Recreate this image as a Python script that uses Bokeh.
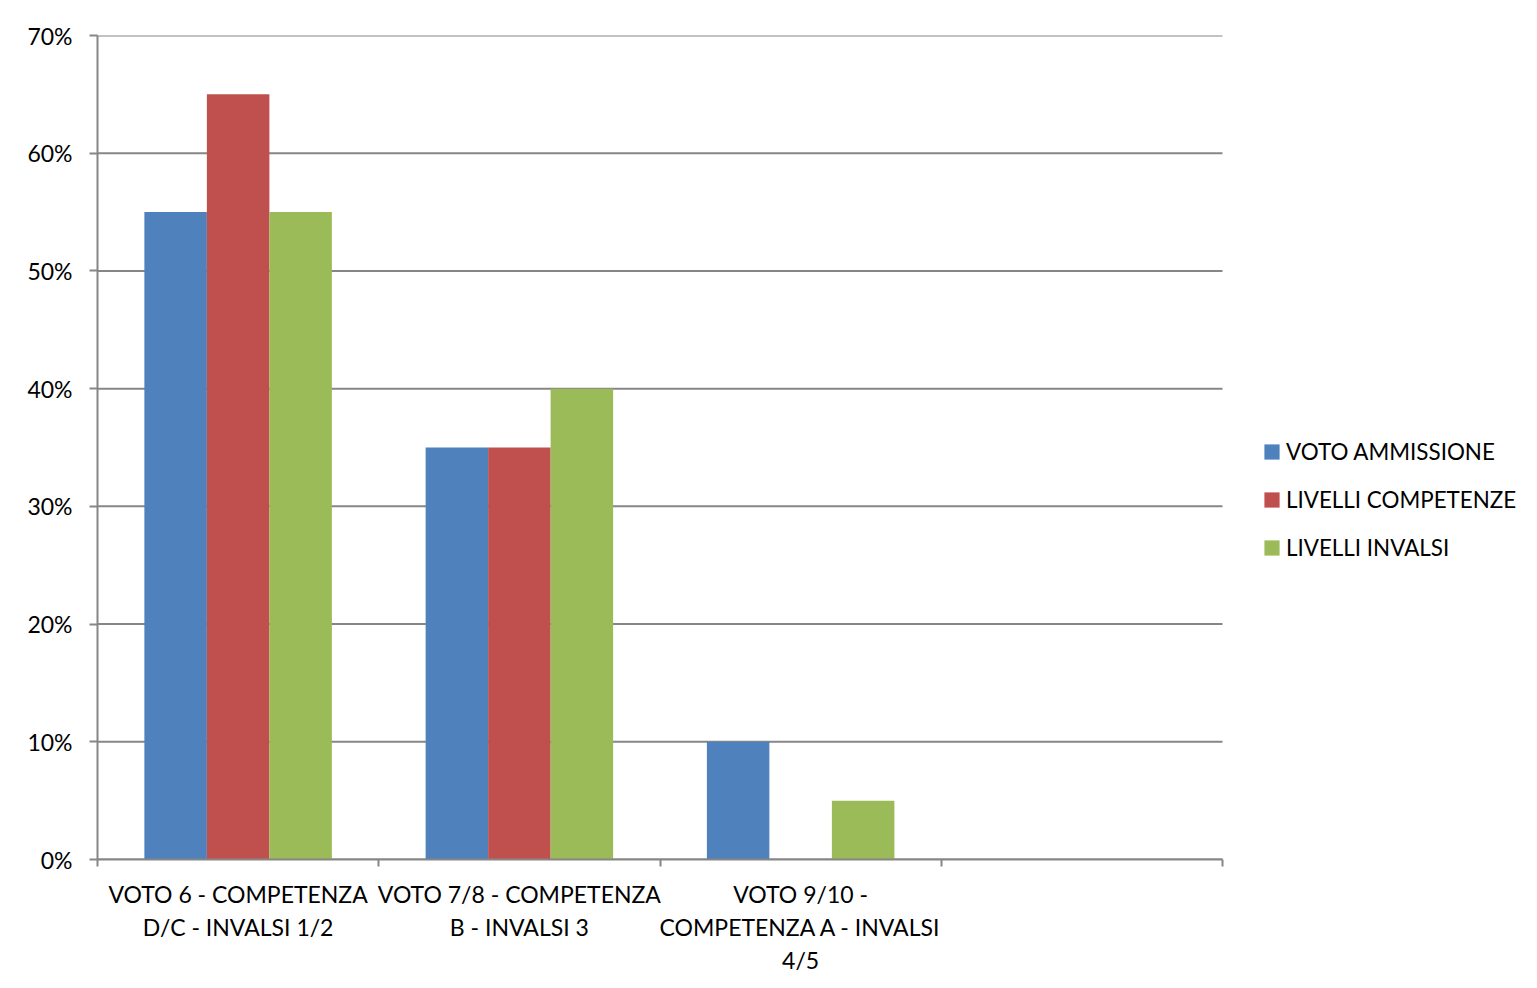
from bokeh.plotting import figure
from bokeh.models import (ColumnDataSource, FixedTicker, NumeralTickFormatter,
                          Range1d, Legend, LegendItem)
from bokeh.embed import file_html
from bokeh.resources import INLINE

# ---- data ----
categories = ["VOTO 6 - COMPETENZA\nD/C - INVALSI 1/2",
              "VOTO 7/8 - COMPETENZA\nB - INVALSI 3",
              "VOTO 9/10 -\nCOMPETENZA A - INVALSI\n4/5",
              ""]
series_names = ["VOTO AMMISSIONE", "LIVELLI COMPETENZE", "LIVELLI INVALSI"]
voto_ammissione = [0.55, 0.35, 0.10, 0.0]
livelli_competenze = [0.65, 0.35, 0.0, 0.0]
livelli_invalsi = [0.55, 0.40, 0.05, 0.0]
y_ticks = [0.0, 0.1, 0.2, 0.3, 0.4, 0.5, 0.6, 0.7]

colors = ["#4F81BD", "#C0504D", "#9BBB59"]
FONT = "Lato"
FS = "23px"
gray = "#868686"

n = len(categories)
centers = [i + 0.5 for i in range(n)]
bw = 2.0 / 9.0  # each bar width in category units
offsets = [-bw, 0.0, bw]

# the frame also holds the legend area on the right; axis and grid stop at the last category
plot_px = 1125
frame_px = 1424
p = figure(frame_width=frame_px, frame_height=824, output_backend="svg", toolbar_location=None,
           x_range=Range1d(0, n * frame_px / plot_px), y_range=Range1d(0, 0.7),
           min_border_left=97, min_border_right=0, min_border_top=35,
           min_border_bottom=113)
p.outline_line_color = None
p.background_fill_color = "white"
p.border_fill_color = "white"

# horizontal gridlines limited to the category area
p.segment(x0=[0] * len(y_ticks), x1=[n] * len(y_ticks), y0=y_ticks, y1=y_ticks,
          line_color=gray, line_width=2)

renderers = []
for vals, off, col in zip([voto_ammissione, livelli_competenze, livelli_invalsi], offsets, colors):
    src = ColumnDataSource(dict(x=[c + off for c in centers], top=vals))
    r = p.vbar(x="x", top="top", bottom=0, width=bw, source=src,
               fill_color=col, line_color=None)
    renderers.append(r)

# axes
xa = p.xaxis[0]
xa.bounds = (0, n)
xa.ticker = FixedTicker(ticks=centers, minor_ticks=list(range(n + 1)))
xa.major_label_overrides = {c: lab for c, lab in zip(centers, categories)}
xa.major_tick_out = 0
xa.major_tick_in = 0
xa.minor_tick_out = 7
xa.minor_tick_in = 0
xa.minor_tick_line_color = gray
xa.minor_tick_line_width = 2
xa.axis_line_color = gray
xa.axis_line_width = 2
xa.major_label_text_font = FONT
xa.major_label_text_font_size = FS
xa.major_label_text_color = "black"
xa.major_label_text_line_height = 1.18
xa.major_label_standoff = 13
xa.major_label_orientation = "horizontal"

ya = p.yaxis[0]
ya.ticker = FixedTicker(ticks=y_ticks)
ya.formatter = NumeralTickFormatter(format="0%")
ya.major_tick_out = 8
ya.major_tick_in = 0
ya.minor_tick_out = 0
ya.minor_tick_in = 0
ya.major_tick_line_color = gray
ya.major_tick_line_width = 2
ya.axis_line_color = gray
ya.axis_line_width = 2
ya.major_label_text_font = FONT
ya.major_label_text_font_size = FS
ya.major_label_text_color = "black"
ya.major_label_standoff = 17

p.xgrid.grid_line_color = None
p.ygrid.grid_line_color = None

legend = Legend(items=[LegendItem(label=nm, renderers=[r]) for nm, r in zip(series_names, renderers)],
                location=(1165, 298))
legend.label_text_font = FONT
legend.label_text_font_size = "22.4px"
legend.label_text_color = "black"
legend.glyph_width = 19
legend.glyph_height = 19
legend.label_height = 24
legend.spacing = 21
legend.padding = 0
legend.margin = 0
legend.label_standoff = 5
legend.border_line_color = None
legend.background_fill_alpha = 0
p.add_layout(legend, "center")

open("out.html", "w").write(file_html(p, INLINE))
